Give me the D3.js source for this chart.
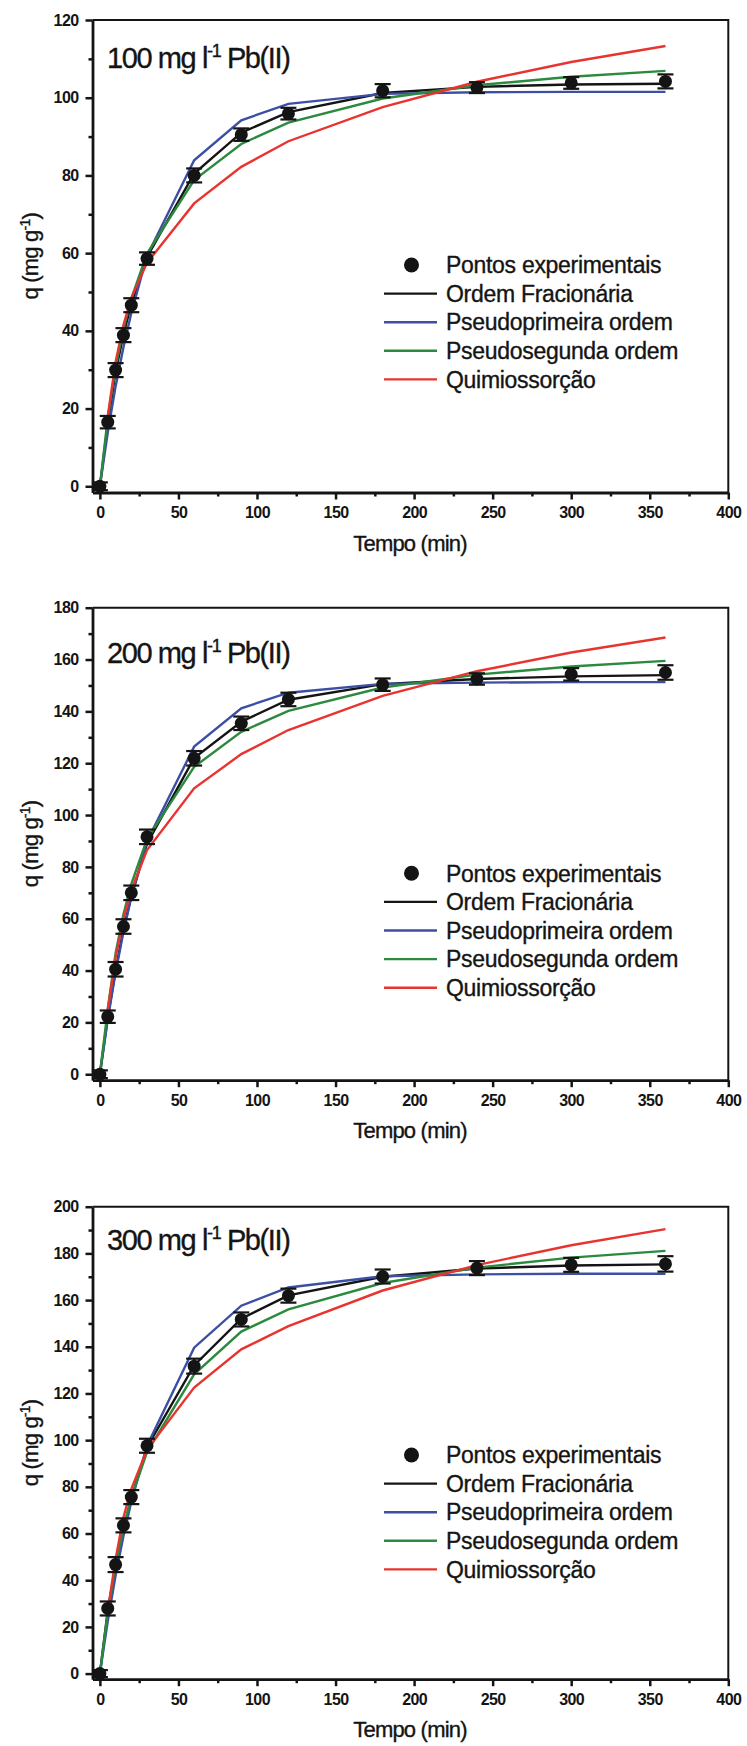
<!DOCTYPE html>
<html>
<head>
<meta charset="utf-8">
<script src="https://cdn.jsdelivr.net/npm/d3@7"></script>
<style>
  body { margin: 0; background: #fff; }
  svg text { font-family: "Liberation Sans", Arial, sans-serif; fill: #141414; }
  .axis text { font-size: 16px; font-weight: bold; letter-spacing: -0.6px; }
  .axis path, .axis line { stroke: #141414; }
  .heavy { stroke: #141414; stroke-width: 0.35px; }
</style>
</head>
<body>
<svg id="chart" width="747" height="1746"></svg>
<script>
// tempo de contato (min)
var times = [0, 5, 10, 15, 20, 30, 60, 90, 120, 180, 240, 300, 360];

// 100 mg/l
var exp100  = [0, 16.5, 29.9, 38.9, 46.6, 58.6, 80.0, 90.5, 95.9, 101.8, 102.6, 103.8, 104.2];
var err100  = [1.0, 1.6, 1.8, 1.8, 1.8, 1.6, 1.8, 1.6, 1.5, 1.7, 1.4, 1.5, 1.8];
var frac100 = [0, 16.0, 29.5, 39.0, 47.0, 59.0, 80.5, 91.0, 96.3, 101.2, 102.8, 103.4, 103.6];
var pfo100  = [0, 13.8, 25.7, 35.8, 44.6, 59.3, 83.9, 94.2, 98.4, 101.0, 101.4, 101.5, 101.5];
var pso100  = [0, 17.6, 30.6, 40.5, 48.3, 59.9, 78.8, 88.1, 93.6, 99.8, 103.2, 105.4, 106.9];
var chem100 = [null, 18.0, 32.0, 41.5, 48.5, 57.5, 72.8, 82.2, 88.8, 97.6, 104.1, 109.2, 113.3];

// 200 mg/l
var exp200  = [0, 22.2, 40.5, 57.0, 70.0, 91.6, 121.9, 135.4, 144.6, 150.3, 152.5, 154.3, 155.0];
var err200  = [1.5, 2.4, 2.8, 2.8, 2.8, 2.8, 2.8, 2.6, 2.6, 2.4, 2.2, 2.4, 2.8];
var frac200 = [0, 22.0, 40.0, 56.0, 68.5, 89.0, 122.0, 136.0, 144.5, 150.5, 152.5, 153.5, 154.0];
var pfo200  = [0, 21.1, 39.3, 54.9, 68.4, 89.9, 126.4, 141.2, 147.2, 150.6, 151.1, 151.3, 151.3];
var pso200  = [0, 25.0, 46.7, 61.7, 73.4, 90.7, 118.6, 132.1, 140.2, 149.2, 154.2, 157.3, 159.5];
var chem200 = [null, 25.0, 45.0, 60.0, 71.0, 86.5, 110.3, 123.5, 132.8, 146.0, 155.5, 162.7, 168.5];

// 300 mg/l
var exp300  = [0, 27.9, 46.7, 63.5, 75.6, 97.6, 131.7, 151.7, 161.9, 170.1, 173.7, 175.1, 175.5];
var err300  = [1.5, 3.0, 3.2, 3.0, 3.0, 3.0, 3.2, 3.0, 3.0, 3.0, 3.0, 3.0, 3.3];
var frac300 = [0, 27.0, 46.0, 62.0, 75.0, 97.0, 132.0, 152.0, 162.0, 170.0, 173.5, 174.8, 175.3];
var pfo300  = [0, 22.4, 42.0, 58.9, 73.6, 97.6, 139.6, 157.6, 165.4, 170.2, 171.0, 171.3, 171.3];
var pso300  = [0, 26.4, 46.6, 62.5, 75.4, 94.9, 128.2, 146.5, 156.0, 167.3, 173.9, 178.2, 181.1];
var chem300 = [null, 27.0, 49.0, 67.0, 79.0, 96.0, 122.5, 138.9, 148.8, 164.1, 175.0, 183.5, 190.4];

var concentrations = ["100", "200", "300"];
var yMax = [120, 180, 200];
var xTicks = [0, 50, 100, 150, 200, 250, 300, 350, 400];
var legendLabels = ["Pontos experimentais", "Ordem Fracionária", "Pseudoprimeira ordem", "Pseudosegunda ordem", "Quimiossorção"];

var panels = [
  { exp: exp100, err: err100, curves: [frac100, pfo100, pso100, chem100] },
  { exp: exp200, err: err200, curves: [frac200, pfo200, pso200, chem200] },
  { exp: exp300, err: err300, curves: [frac300, pfo300, pso300, chem300] }
];

// layout (pixels)
var tops = [20, 607.7, 1206.7];
var yMins = [-1.6, -2.3, -2.4];
var titleOffsets = [48, 55.6, 43.3];
var legendOffsets = [245, 265.6, 248.3];
var plotH = 472.5;
var colors = ["#141414", "#3d4fa3", "#2b8a3e", "#e8342f"];

var svg = d3.select("#chart");

var x = d3.scaleLinear().domain([-4.7, 400]).range([92.5, 728.3]);

panels.forEach(function(p, i) {
  var top = tops[i],
      bottom = top + plotH;

  var y = d3.scaleLinear().domain([yMins[i], yMax[i]]).range([bottom, top]);

  var g = svg.append("g");

  // frame top/right
  g.append("path")
      .attr("d", "M" + x.range()[0] + "," + top + "H" + x.range()[1] + "V" + bottom)
      .attr("fill", "none")
      .attr("stroke", "#141414")
      .attr("stroke-width", 2);

  // minor ticks
  g.append("g")
      .attr("class", "axis")
      .attr("transform", "translate(0," + bottom + ")")
      .call(d3.axisBottom(x).tickValues(d3.range(25, 400, 50)).tickSize(4).tickSizeOuter(0).tickFormat(""))
      .call(function(a) { a.select(".domain").remove(); a.selectAll("line").attr("stroke-width", 2.5); });

  g.append("g")
      .attr("class", "axis")
      .attr("transform", "translate(" + x.range()[0] + ",0)")
      .call(d3.axisLeft(y).tickValues(d3.range(10, yMax[i], 20)).tickSize(4).tickSizeOuter(0).tickFormat(""))
      .call(function(a) { a.select(".domain").remove(); a.selectAll("line").attr("stroke-width", 2.5); });

  // major axes
  g.append("g")
      .attr("class", "axis")
      .attr("transform", "translate(0," + bottom + ")")
      .call(d3.axisBottom(x).tickValues(xTicks).tickSize(7).tickPadding(7).tickSizeOuter(0))
      .call(function(a) {
        a.select(".domain").attr("stroke-width", 2.8);
        a.selectAll("line").attr("stroke-width", 2.5);
      });

  g.append("g")
      .attr("class", "axis")
      .attr("transform", "translate(" + x.range()[0] + ",0)")
      .call(d3.axisLeft(y).tickValues(d3.range(0, yMax[i] + 1, 20)).tickSize(7).tickPadding(7).tickSizeOuter(0))
      .call(function(a) {
        a.select(".domain").attr("stroke-width", 2.8);
        a.selectAll("line").attr("stroke-width", 2.5);
      });

  // axis titles
  g.append("text")
      .attr("class", "heavy")
      .attr("x", 410)
      .attr("y", bottom + 58)
      .attr("text-anchor", "middle")
      .style("font-size", "22px")
      .style("letter-spacing", "-0.8px")
      .text("Tempo (min)");

  var yt = g.append("text")
      .attr("class", "heavy")
      .attr("transform", "translate(38," + (top + plotH / 2) + ") rotate(-90)")
      .attr("text-anchor", "middle")
      .style("font-size", "22px")
      .style("letter-spacing", "-0.8px");
  yt.append("tspan").text("q (mg g");
  yt.append("tspan").attr("dy", -8).style("font-size", "14px").text("-1");
  yt.append("tspan").attr("dy", 8).text(")");

  // panel title
  var tt = g.append("text")
      .attr("class", "heavy")
      .attr("x", 107)
      .attr("y", top + titleOffsets[i])
      .style("font-size", "29px")
      .style("letter-spacing", "-1.4px");
  tt.append("tspan").text(concentrations[i] + " mg l");
  tt.append("tspan").attr("dy", -11).style("font-size", "18px").text("-1");
  tt.append("tspan").attr("dy", 11).text(" Pb(II)");

  // model curves
  p.curves.forEach(function(c, k) {
    var line = d3.line()
        .defined(function(d) { return d != null; })
        .x(function(d, j) { return x(times[j]); })
        .y(function(d) { return y(d); });
    g.append("path")
        .datum(c)
        .attr("fill", "none")
        .attr("stroke", colors[k])
        .attr("stroke-width", 2.4)
        .attr("d", line);
  });

  // error bars
  var eb = g.selectAll(".err")
    .data(p.exp)
    .enter().append("g")
      .attr("class", "err");

  eb.append("line")
      .attr("x1", function(d, j) { return x(times[j]); })
      .attr("x2", function(d, j) { return x(times[j]); })
      .attr("y1", function(d, j) { return y(d - p.err[j]); })
      .attr("y2", function(d, j) { return y(d + p.err[j]); })
      .attr("stroke", "#141414")
      .attr("stroke-width", 2);

  [-1, 1].forEach(function(s) {
    eb.append("line")
        .attr("x1", function(d, j) { return x(times[j]) - 8; })
        .attr("x2", function(d, j) { return x(times[j]) + 8; })
        .attr("y1", function(d, j) { return y(d + s * p.err[j]); })
        .attr("y2", function(d, j) { return y(d + s * p.err[j]); })
        .attr("stroke", "#141414")
        .attr("stroke-width", 2.2);
  });

  // experimental points
  g.selectAll(".pt")
    .data(p.exp)
    .enter().append("circle")
      .attr("class", "pt")
      .attr("cx", function(d, j) { return x(times[j]); })
      .attr("cy", function(d) { return y(d); })
      .attr("r", 6.5)
      .attr("fill", "#141414");

  // legend
  var lg = g.append("g")
      .attr("transform", "translate(0," + (top + legendOffsets[i]) + ")");

  legendLabels.forEach(function(label, k) {
    var row = lg.append("g").attr("transform", "translate(0," + (k * 28.6) + ")");
    if (k == 0) {
      row.append("circle").attr("cx", 411.5).attr("cy", 0).attr("r", 7.5).attr("fill", "#141414");
    } else {
      row.append("line")
          .attr("x1", 384).attr("x2", 437)
          .attr("y1", 0).attr("y2", 0)
          .attr("stroke", colors[k - 1])
          .attr("stroke-width", 2.4);
    }
    row.append("text")
        .attr("class", "heavy")
        .attr("x", 446)
        .attr("dy", "0.36em")
        .style("font-size", "23px")
        .style("letter-spacing", "-0.3px")
        .text(label);
  });
});
</script>
</body>
</html>
